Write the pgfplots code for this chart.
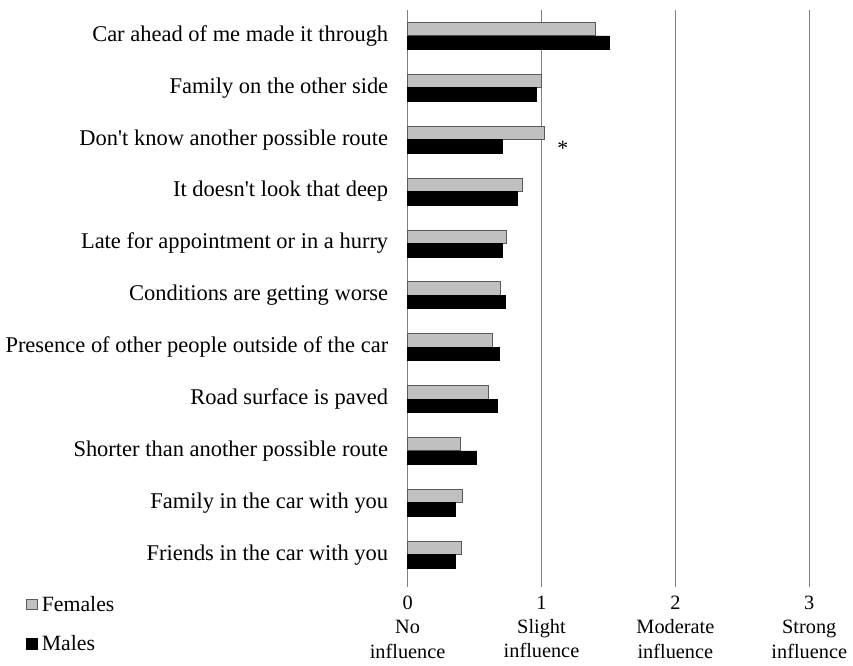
\documentclass[border=0pt]{standalone}
\usepackage{fontspec}
\setmainfont{Liberation Serif}
\usepackage{pgfplots}
\pgfplotsset{compat=1.18}
\usepackage{pgfplotstable}

\definecolor{femfill}{HTML}{C0C0C0}
\definecolor{femedge}{HTML}{5A5A5A}
\definecolor{gridgray}{HTML}{808080}

% Mean influence rating per reason (0 = no influence ... 3 = strong influence)
% pos: 10 = top row, 0 = bottom row
\pgfplotstableread{
pos females males
10  1.404  1.510
9   0.998  0.963
8   1.025  0.710
7   0.859  0.822
6   0.738  0.710
5   0.690  0.727
4   0.634  0.684
3   0.606  0.671
2   0.396  0.515
1   0.406  0.354
0   0.399  0.354
}\influence

\begin{document}
\begin{tikzpicture}
\begin{axis}[
  scale only axis,
  width=404bp, height=574bp,
  xmin=0, xmax=3,
  ymin=-0.5, ymax=10.5,
  xbar,
  bar width=13.5bp,
  axis line style={draw=none},
  xmajorgrids,
  grid style={gridgray, line width=1.3pt},
  xtick={0,1,2,3},
  xticklabels={{0\\No\\influence},{1\\Slight\\influence},{2\\Moderate\\influence},{3\\Strong\\influence}},
  xticklabel style={align=center, font=\fontsize{20.5}{24.5}\selectfont, yshift=-6bp},
  xtick pos=bottom,
  tick align=outside,
  major tick length=6bp,
  xtick style={draw=gridgray, line width=1pt},
  ytick={0,...,10},
  yticklabels={
    Friends in the car with you,
    Family in the car with you,
    Shorter than another possible route,
    Road surface is paved,
    Presence of other people outside of the car,
    Conditions are getting worse,
    Late for appointment or in a hurry,
    It doesn\textquotesingle t look that deep,
    Don\textquotesingle t know another possible route,
    Family on the other side,
    Car ahead of me made it through},
  ytick style={draw=none},
  yticklabel style={font=\fontsize{22.7}{25}\selectfont, xshift=-10bp},
  /pgf/number format/assume math mode=true,
  clip=false,
  legend style={
    at={(-0.958,-0.020)}, anchor=north west,
    draw=none, fill=none,
    font=\fontsize{22}{24}\selectfont,
    row sep=19bp,
    cells={anchor=west},
    nodes={inner xsep=4bp},
  },
  legend image code/.code={
    \draw[#1] (0bp,-5.5bp) rectangle (11bp,5.5bp);
  },
]
\addplot[fill=femfill, draw=femedge, line width=0.9pt, bar shift=6.75bp]
  table[x=females, y=pos] {\influence};
\addlegendentry{Females}
\addplot[fill=black, draw=black, line width=0.6pt, bar shift=-6.75bp]
  table[x=males, y=pos] {\influence};
\addlegendentry{Males}
\node[font=\fontsize{22}{24}\selectfont] at (axis cs:1.16,8) [yshift=-9bp] {*};
\end{axis}
\pgfresetboundingbox
\path ([xshift=-410bp,yshift=-85bp]current axis.south west)
  rectangle ([xshift=44bp,yshift=10bp]current axis.north east);
\end{tikzpicture}
\end{document}
